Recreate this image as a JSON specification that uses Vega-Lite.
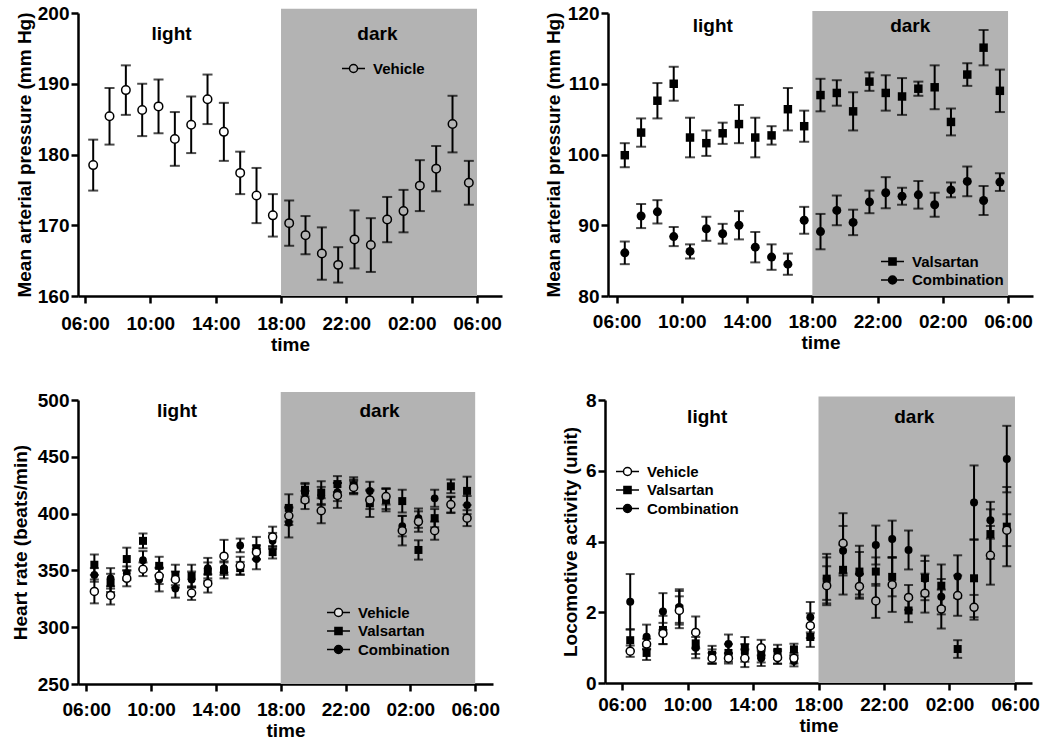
{
 "$schema": "https://vega.github.io/schema/vega-lite/v6.json",
 "background": "white",
 "padding": {"left": 0, "top": 4, "right": 0, "bottom": 0},
 "datasets": {
  "p1": [
   {"hour":6.5,"series":"Vehicle","mean":178.5,"sem":3.6},{"hour":7.5,"series":"Vehicle","mean":185.4,"sem":4.0},{"hour":8.5,"series":"Vehicle","mean":189.1,"sem":3.5},{"hour":9.5,"series":"Vehicle","mean":186.3,"sem":3.7},{"hour":10.5,"series":"Vehicle","mean":186.8,"sem":3.8},{"hour":11.5,"series":"Vehicle","mean":182.2,"sem":3.8},{"hour":12.5,"series":"Vehicle","mean":184.2,"sem":4.0},{"hour":13.5,"series":"Vehicle","mean":187.8,"sem":3.5},{"hour":14.5,"series":"Vehicle","mean":183.2,"sem":4.1},{"hour":15.5,"series":"Vehicle","mean":177.4,"sem":3.0},{"hour":16.5,"series":"Vehicle","mean":174.2,"sem":3.9},{"hour":17.5,"series":"Vehicle","mean":171.4,"sem":3.0},
   {"hour":18.5,"series":"Vehicle","mean":170.3,"sem":3.2},{"hour":19.5,"series":"Vehicle","mean":168.6,"sem":2.7},{"hour":20.5,"series":"Vehicle","mean":166.0,"sem":3.7},{"hour":21.5,"series":"Vehicle","mean":164.4,"sem":2.5},{"hour":22.5,"series":"Vehicle","mean":168.0,"sem":4.1},{"hour":23.5,"series":"Vehicle","mean":167.2,"sem":3.8},{"hour":24.5,"series":"Vehicle","mean":170.8,"sem":3.2},{"hour":25.5,"series":"Vehicle","mean":172.0,"sem":3.0},{"hour":26.5,"series":"Vehicle","mean":175.6,"sem":3.6},{"hour":27.5,"series":"Vehicle","mean":178.0,"sem":3.2},{"hour":28.5,"series":"Vehicle","mean":184.3,"sem":4.0},{"hour":29.5,"series":"Vehicle","mean":176.0,"sem":3.1}
  ],
  "p2": [
   {"hour":6.5,"series":"Valsartan","mean":99.9,"sem":1.7},{"hour":7.5,"series":"Valsartan","mean":103.1,"sem":2.0},{"hour":8.5,"series":"Valsartan","mean":107.6,"sem":2.5},{"hour":9.5,"series":"Valsartan","mean":110.0,"sem":2.4},{"hour":10.5,"series":"Valsartan","mean":102.4,"sem":2.8},{"hour":11.5,"series":"Valsartan","mean":101.6,"sem":1.8},{"hour":12.5,"series":"Valsartan","mean":103.0,"sem":1.5},{"hour":13.5,"series":"Valsartan","mean":104.3,"sem":2.7},{"hour":14.5,"series":"Valsartan","mean":102.4,"sem":2.8},{"hour":15.5,"series":"Valsartan","mean":102.7,"sem":1.3},{"hour":16.5,"series":"Valsartan","mean":106.4,"sem":3.0},{"hour":17.5,"series":"Valsartan","mean":104.0,"sem":2.2},
   {"hour":18.5,"series":"Valsartan","mean":108.4,"sem":2.3},{"hour":19.5,"series":"Valsartan","mean":108.7,"sem":1.8},{"hour":20.5,"series":"Valsartan","mean":106.1,"sem":2.7},{"hour":21.5,"series":"Valsartan","mean":110.3,"sem":1.3},{"hour":22.5,"series":"Valsartan","mean":108.7,"sem":2.5},{"hour":23.5,"series":"Valsartan","mean":108.2,"sem":2.6},{"hour":24.5,"series":"Valsartan","mean":109.3,"sem":1.0},{"hour":25.5,"series":"Valsartan","mean":109.5,"sem":3.1},{"hour":26.5,"series":"Valsartan","mean":104.6,"sem":1.9},{"hour":27.5,"series":"Valsartan","mean":111.3,"sem":1.6},{"hour":28.5,"series":"Valsartan","mean":115.1,"sem":2.5},{"hour":29.5,"series":"Valsartan","mean":109.0,"sem":3.0},
   {"hour":6.5,"series":"Combination","mean":86.1,"sem":1.6},{"hour":7.5,"series":"Combination","mean":91.3,"sem":1.7},{"hour":8.5,"series":"Combination","mean":91.9,"sem":1.65},{"hour":9.5,"series":"Combination","mean":88.4,"sem":1.35},{"hour":10.5,"series":"Combination","mean":86.3,"sem":1.0},{"hour":11.5,"series":"Combination","mean":89.5,"sem":1.7},{"hour":12.5,"series":"Combination","mean":88.8,"sem":1.4},{"hour":13.5,"series":"Combination","mean":90.0,"sem":2.0},{"hour":14.5,"series":"Combination","mean":86.9,"sem":2.15},{"hour":15.5,"series":"Combination","mean":85.5,"sem":1.8},{"hour":16.5,"series":"Combination","mean":84.5,"sem":1.5},{"hour":17.5,"series":"Combination","mean":90.7,"sem":1.9},
   {"hour":18.5,"series":"Combination","mean":89.1,"sem":2.5},{"hour":19.5,"series":"Combination","mean":92.1,"sem":2.1},{"hour":20.5,"series":"Combination","mean":90.4,"sem":1.8},{"hour":21.5,"series":"Combination","mean":93.3,"sem":1.6},{"hour":22.5,"series":"Combination","mean":94.6,"sem":2.2},{"hour":23.5,"series":"Combination","mean":94.1,"sem":1.2},{"hour":24.5,"series":"Combination","mean":94.3,"sem":1.95},{"hour":25.5,"series":"Combination","mean":92.9,"sem":1.7},{"hour":26.5,"series":"Combination","mean":95.0,"sem":1.05},{"hour":27.5,"series":"Combination","mean":96.2,"sem":2.1},{"hour":28.5,"series":"Combination","mean":93.5,"sem":2.05},{"hour":29.5,"series":"Combination","mean":96.1,"sem":1.25}
  ],
  "p3": [
   {"hour":6.5,"series":"Vehicle","mean":331.5,"sem":10.5},{"hour":7.5,"series":"Vehicle","mean":328,"sem":8},{"hour":8.5,"series":"Vehicle","mean":343,"sem":7},{"hour":9.5,"series":"Vehicle","mean":351,"sem":6},{"hour":10.5,"series":"Vehicle","mean":345,"sem":7},{"hour":11.5,"series":"Vehicle","mean":342,"sem":7},{"hour":12.5,"series":"Vehicle","mean":330,"sem":6},{"hour":13.5,"series":"Vehicle","mean":338.5,"sem":8},{"hour":14.5,"series":"Vehicle","mean":362.5,"sem":14.4},{"hour":15.5,"series":"Vehicle","mean":354,"sem":8},{"hour":16.5,"series":"Vehicle","mean":366,"sem":6},{"hour":17.5,"series":"Vehicle","mean":379.5,"sem":9},
   {"hour":18.5,"series":"Vehicle","mean":398,"sem":8},{"hour":19.5,"series":"Vehicle","mean":412,"sem":8},{"hour":20.5,"series":"Vehicle","mean":402.5,"sem":11},{"hour":21.5,"series":"Vehicle","mean":416,"sem":11},{"hour":22.5,"series":"Vehicle","mean":423,"sem":6},{"hour":23.5,"series":"Vehicle","mean":412,"sem":8},{"hour":24.5,"series":"Vehicle","mean":415,"sem":7},{"hour":25.5,"series":"Vehicle","mean":385,"sem":13},{"hour":26.5,"series":"Vehicle","mean":393,"sem":9},{"hour":27.5,"series":"Vehicle","mean":385,"sem":8},{"hour":28.5,"series":"Vehicle","mean":408,"sem":7},{"hour":29.5,"series":"Vehicle","mean":396,"sem":7},
   {"hour":6.5,"series":"Valsartan","mean":355,"sem":9},{"hour":7.5,"series":"Valsartan","mean":339,"sem":8},{"hour":8.5,"series":"Valsartan","mean":360,"sem":10},{"hour":9.5,"series":"Valsartan","mean":376,"sem":6.5},{"hour":10.5,"series":"Valsartan","mean":354,"sem":8},{"hour":11.5,"series":"Valsartan","mean":346,"sem":9},{"hour":12.5,"series":"Valsartan","mean":345,"sem":10},{"hour":13.5,"series":"Valsartan","mean":349,"sem":8},{"hour":14.5,"series":"Valsartan","mean":350,"sem":7},{"hour":15.5,"series":"Valsartan","mean":352,"sem":5.5},{"hour":16.5,"series":"Valsartan","mean":369.5,"sem":10},{"hour":17.5,"series":"Valsartan","mean":366,"sem":5.5},
   {"hour":18.5,"series":"Valsartan","mean":405,"sem":12},{"hour":19.5,"series":"Valsartan","mean":421,"sem":6},{"hour":20.5,"series":"Valsartan","mean":418.5,"sem":10},{"hour":21.5,"series":"Valsartan","mean":426,"sem":7},{"hour":22.5,"series":"Valsartan","mean":425,"sem":7},{"hour":23.5,"series":"Valsartan","mean":409,"sem":12},{"hour":24.5,"series":"Valsartan","mean":412,"sem":10},{"hour":25.5,"series":"Valsartan","mean":411,"sem":10},{"hour":26.5,"series":"Valsartan","mean":368,"sem":8.5},{"hour":27.5,"series":"Valsartan","mean":396,"sem":8},{"hour":28.5,"series":"Valsartan","mean":424,"sem":6},{"hour":29.5,"series":"Valsartan","mean":420,"sem":12.5},
   {"hour":6.5,"series":"Combination","mean":346,"sem":6},{"hour":7.5,"series":"Combination","mean":343,"sem":9},{"hour":8.5,"series":"Combination","mean":347.5,"sem":6},{"hour":9.5,"series":"Combination","mean":359,"sem":8},{"hour":10.5,"series":"Combination","mean":342,"sem":10.5},{"hour":11.5,"series":"Combination","mean":334,"sem":8},{"hour":12.5,"series":"Combination","mean":342,"sem":7},{"hour":13.5,"series":"Combination","mean":352,"sem":9},{"hour":14.5,"series":"Combination","mean":352,"sem":6},{"hour":15.5,"series":"Combination","mean":372,"sem":6},{"hour":16.5,"series":"Combination","mean":360,"sem":9},{"hour":17.5,"series":"Combination","mean":376,"sem":7},
   {"hour":18.5,"series":"Combination","mean":392,"sem":13},{"hour":19.5,"series":"Combination","mean":418,"sem":8},{"hour":20.5,"series":"Combination","mean":415.5,"sem":8},{"hour":21.5,"series":"Combination","mean":419,"sem":8},{"hour":22.5,"series":"Combination","mean":424,"sem":6},{"hour":23.5,"series":"Combination","mean":420,"sem":8},{"hour":24.5,"series":"Combination","mean":413,"sem":9},{"hour":25.5,"series":"Combination","mean":389,"sem":9},{"hour":26.5,"series":"Combination","mean":396,"sem":8.5},{"hour":27.5,"series":"Combination","mean":413.5,"sem":7.5},{"hour":28.5,"series":"Combination","mean":407.5,"sem":7},{"hour":29.5,"series":"Combination","mean":407.5,"sem":8}
  ],
  "p4": [
   {"hour":6.5,"series":"Vehicle","mean":0.9,"sem":0.16},{"hour":7.5,"series":"Vehicle","mean":1.1,"sem":0.15},{"hour":8.5,"series":"Vehicle","mean":1.4,"sem":0.3},{"hour":9.5,"series":"Vehicle","mean":2.05,"sem":0.4},{"hour":10.5,"series":"Vehicle","mean":1.43,"sem":0.45},{"hour":11.5,"series":"Vehicle","mean":0.7,"sem":0.15},{"hour":12.5,"series":"Vehicle","mean":0.7,"sem":0.15},{"hour":13.5,"series":"Vehicle","mean":0.7,"sem":0.25},{"hour":14.5,"series":"Vehicle","mean":1.0,"sem":0.22},{"hour":15.5,"series":"Vehicle","mean":0.72,"sem":0.18},{"hour":16.5,"series":"Vehicle","mean":0.7,"sem":0.15},{"hour":17.5,"series":"Vehicle","mean":1.62,"sem":0.35},
   {"hour":18.5,"series":"Vehicle","mean":2.75,"sem":0.55},{"hour":19.5,"series":"Vehicle","mean":3.95,"sem":0.85},{"hour":20.5,"series":"Vehicle","mean":2.73,"sem":0.35},{"hour":21.5,"series":"Vehicle","mean":2.32,"sem":0.48},{"hour":22.5,"series":"Vehicle","mean":2.78,"sem":0.77},{"hour":23.5,"series":"Vehicle","mean":2.42,"sem":0.35},{"hour":24.5,"series":"Vehicle","mean":2.54,"sem":0.55},{"hour":25.5,"series":"Vehicle","mean":2.09,"sem":0.55},{"hour":26.5,"series":"Vehicle","mean":2.47,"sem":0.57},{"hour":27.5,"series":"Vehicle","mean":2.14,"sem":0.35},{"hour":28.5,"series":"Vehicle","mean":3.61,"sem":0.83},{"hour":29.5,"series":"Vehicle","mean":4.32,"sem":0.45},
   {"hour":6.5,"series":"Valsartan","mean":1.21,"sem":0.3},{"hour":7.5,"series":"Valsartan","mean":0.85,"sem":0.2},{"hour":8.5,"series":"Valsartan","mean":1.5,"sem":0.4},{"hour":9.5,"series":"Valsartan","mean":2.1,"sem":0.55},{"hour":10.5,"series":"Valsartan","mean":1.12,"sem":0.3},{"hour":11.5,"series":"Valsartan","mean":0.8,"sem":0.25},{"hour":12.5,"series":"Valsartan","mean":0.85,"sem":0.25},{"hour":13.5,"series":"Valsartan","mean":1.0,"sem":0.3},{"hour":14.5,"series":"Valsartan","mean":0.8,"sem":0.22},{"hour":15.5,"series":"Valsartan","mean":0.88,"sem":0.2},{"hour":16.5,"series":"Valsartan","mean":0.95,"sem":0.16},{"hour":17.5,"series":"Valsartan","mean":1.3,"sem":0.28},
   {"hour":18.5,"series":"Valsartan","mean":2.95,"sem":0.7},{"hour":19.5,"series":"Valsartan","mean":3.2,"sem":0.7},{"hour":20.5,"series":"Valsartan","mean":3.15,"sem":0.73},{"hour":21.5,"series":"Valsartan","mean":3.15,"sem":0.4},{"hour":22.5,"series":"Valsartan","mean":3.0,"sem":0.55},{"hour":23.5,"series":"Valsartan","mean":2.05,"sem":0.33},{"hour":24.5,"series":"Valsartan","mean":2.97,"sem":0.63},{"hour":25.5,"series":"Valsartan","mean":2.75,"sem":0.6},{"hour":26.5,"series":"Valsartan","mean":0.96,"sem":0.25},{"hour":27.5,"series":"Valsartan","mean":2.96,"sem":1.1},{"hour":28.5,"series":"Valsartan","mean":4.21,"sem":0.7},{"hour":29.5,"series":"Valsartan","mean":4.42,"sem":1.12},
   {"hour":6.5,"series":"Combination","mean":2.3,"sem":0.78},{"hour":7.5,"series":"Combination","mean":1.31,"sem":0.34},{"hour":8.5,"series":"Combination","mean":2.02,"sem":0.52},{"hour":9.5,"series":"Combination","mean":2.15,"sem":0.45},{"hour":10.5,"series":"Combination","mean":1.0,"sem":0.3},{"hour":11.5,"series":"Combination","mean":0.75,"sem":0.2},{"hour":12.5,"series":"Combination","mean":1.1,"sem":0.27},{"hour":13.5,"series":"Combination","mean":0.85,"sem":0.25},{"hour":14.5,"series":"Combination","mean":0.7,"sem":0.22},{"hour":15.5,"series":"Combination","mean":0.75,"sem":0.2},{"hour":16.5,"series":"Combination","mean":0.62,"sem":0.15},{"hour":17.5,"series":"Combination","mean":1.86,"sem":0.43},
   {"hour":18.5,"series":"Combination","mean":2.95,"sem":0.6},{"hour":19.5,"series":"Combination","mean":3.74,"sem":0.7},{"hour":20.5,"series":"Combination","mean":3.1,"sem":0.6},{"hour":21.5,"series":"Combination","mean":3.9,"sem":0.55},{"hour":22.5,"series":"Combination","mean":4.07,"sem":0.52},{"hour":23.5,"series":"Combination","mean":3.76,"sem":0.55},{"hour":24.5,"series":"Combination","mean":2.95,"sem":0.5},{"hour":25.5,"series":"Combination","mean":2.44,"sem":0.5},{"hour":26.5,"series":"Combination","mean":3.01,"sem":0.6},{"hour":27.5,"series":"Combination","mean":5.1,"sem":1.05},{"hour":28.5,"series":"Combination","mean":4.6,"sem":0.52},{"hour":29.5,"series":"Combination","mean":6.33,"sem":0.94}
  ]
 },
 "columns": 1,
 "align": "none",
 "spacing": 37,
 "center": false,
 "resolve": {"scale": {"shape": "independent", "fill": "independent"}, "legend": {"shape": "independent", "fill": "independent"}},
 "concat": [
  {
   "spacing": 42,
   "center": false,
   "resolve": {"scale": {"shape": "independent", "fill": "independent"}, "legend": {"shape": "independent", "fill": "independent"}},
   "hconcat": [
    {
     "width": 424, "height": 283,
     "data": {"name": "p1"},
     "layer": [
      {"data": {"values": [{"hour": 18, "hour2": 30, "mean": 160, "mean2": 200.6}]},
       "mark": {"type": "rect", "color": "#b3b3b3"},
       "encoding": {
        "x": {"field": "hour", "type": "quantitative", "title": "time", "scale": {"domain": [5.57, 31.53], "nice": false, "zero": false},
              "axis": {"values": [6,10,14,18,22,26,30], "labelExpr": "(datum.value % 24 < 10 ? '0' : '') + (datum.value % 24) + ':00'", "labelFlush": false, "labelPadding": 11, "titlePadding": 2}},
        "x2": {"field": "hour2"},
        "y": {"field": "mean", "type": "quantitative", "title": ["", "Mean arterial pressure (mm Hg)"], "scale": {"domain": [160, 200], "nice": false, "zero": false},
              "axis": {"values": [160,170,180,190,200], "labelFlush": false, "titlePadding": 3, "titleLineHeight": 15}},
        "y2": {"field": "mean2"}
       }},
      {"data": {"values": [{"hour": 11.3, "mean": 197, "label": "light"}, {"hour": 23.9, "mean": 197, "label": "dark"}]},
       "mark": {"type": "text", "fontSize": 19, "fontWeight": "bold", "color": "black", "font": "Liberation Sans"},
       "encoding": {"x": {"field": "hour", "type": "quantitative", "title": "time"}, "y": {"field": "mean", "type": "quantitative", "title": ["", "Mean arterial pressure (mm Hg)"]}, "text": {"field": "label"}}},
      {"mark": {"type": "errorbar", "color": "black", "thickness": 2, "ticks": {"size": 10, "thickness": 2}},
       "encoding": {"x": {"field": "hour", "type": "quantitative", "title": "time"}, "y": {"field": "mean", "type": "quantitative", "title": ["", "Mean arterial pressure (mm Hg)"]}, "yError": {"field": "sem"}}},
      {"mark": {"type": "point", "shape": "circle", "size": 72, "stroke": "black", "strokeWidth": 1.5, "filled": true, "opacity": 1},
       "encoding": {"x": {"field": "hour", "type": "quantitative", "title": "time"}, "y": {"field": "mean", "type": "quantitative", "title": ["", "Mean arterial pressure (mm Hg)"]},
        "fill": {"condition": {"test": "datum.hour > 18", "value": "#b3b3b3"}, "value": "white"}}},
      {"mark": {"type": "point", "opacity": 0, "filled": true, "stroke": "black", "strokeWidth": 1.5},
       "encoding": {"x": {"field": "hour", "type": "quantitative", "title": "time"}, "y": {"field": "mean", "type": "quantitative", "title": ["", "Mean arterial pressure (mm Hg)"]},
        "shape": {"field": "series", "type": "nominal", "scale": {"domain": ["Vehicle"], "range": ["M-2,0L-0.7,0M0.7,0L2,0M-0.7,0A0.7,0.7,0,1,1,0.7,0A0.7,0.7,0,1,1,-0.7,0Z"]},
                  "legend": {"title": null, "orient": "none", "legendX": 268, "legendY": 48, "symbolSize": 132, "symbolStrokeColor": "black", "symbolStrokeWidth": 1.5, "symbolOpacity": 1, "labelFontSize": 15, "labelFontWeight": "bold", "labelColor": "black", "labelOffset": 12, "rowPadding": 2.5, "padding": 0, "encode": {"symbols": {"update": {"stroke": {"value": "black"}, "strokeWidth": {"value": 1.5}}}}}},
        "fill": {"field": "series", "type": "nominal", "scale": {"domain": ["Vehicle"], "range": ["#b3b3b3"]},
                  "legend": {"title": null, "orient": "none", "legendX": 268, "legendY": 48, "symbolSize": 132, "symbolStrokeColor": "black", "symbolStrokeWidth": 1.5, "symbolOpacity": 1, "labelFontSize": 15, "labelFontWeight": "bold", "labelColor": "black", "labelOffset": 12, "rowPadding": 2.5, "padding": 0, "encode": {"symbols": {"update": {"stroke": {"value": "black"}, "strokeWidth": {"value": 1.5}}}}}}}}
     ]
    },
    {
     "width": 425, "height": 283,
     "data": {"name": "p2"},
     "layer": [
      {"data": {"values": [{"hour": 18, "hour2": 30, "mean": 80, "mean2": 120.3}]},
       "mark": {"type": "rect", "color": "#b3b3b3"},
       "encoding": {
        "x": {"field": "hour", "type": "quantitative", "title": "time", "scale": {"domain": [5.47, 31.53], "nice": false, "zero": false},
              "axis": {"values": [6,10,14,18,22,26,30], "labelExpr": "(datum.value % 24 < 10 ? '0' : '') + (datum.value % 24) + ':00'", "labelFlush": false, "labelPadding": 9, "titlePadding": 2}},
        "x2": {"field": "hour2"},
        "y": {"field": "mean", "type": "quantitative", "title": "Mean arterial pressure (mm Hg)", "scale": {"domain": [80, 120], "nice": false, "zero": false},
              "axis": {"values": [80,90,100,110,120], "labelFlush": false, "titlePadding": 4}},
        "y2": {"field": "mean2"}
       }},
      {"data": {"values": [{"hour": 11.9, "mean": 118.1, "label": "light"}, {"hour": 24.0, "mean": 118.1, "label": "dark"}]},
       "mark": {"type": "text", "fontSize": 19, "fontWeight": "bold", "color": "black", "font": "Liberation Sans"},
       "encoding": {"x": {"field": "hour", "type": "quantitative", "title": "time"}, "y": {"field": "mean", "type": "quantitative", "title": "Mean arterial pressure (mm Hg)"}, "text": {"field": "label"}}},
      {"mark": {"type": "errorbar", "color": "black", "thickness": 2, "ticks": {"size": 10, "thickness": 2}},
       "encoding": {"x": {"field": "hour", "type": "quantitative", "title": "time"}, "y": {"field": "mean", "type": "quantitative", "title": "Mean arterial pressure (mm Hg)"}, "yError": {"field": "sem"}}},
      {"transform": [{"filter": "datum.series === 'Valsartan'"}],
       "mark": {"type": "point", "shape": "square", "size": 72, "color": "black", "filled": true, "opacity": 1},
       "encoding": {"x": {"field": "hour", "type": "quantitative", "title": "time"}, "y": {"field": "mean", "type": "quantitative", "title": "Mean arterial pressure (mm Hg)"}}},
      {"transform": [{"filter": "datum.series === 'Combination'"}],
       "mark": {"type": "point", "shape": "circle", "size": 81, "color": "black", "filled": true, "opacity": 1},
       "encoding": {"x": {"field": "hour", "type": "quantitative", "title": "time"}, "y": {"field": "mean", "type": "quantitative", "title": "Mean arterial pressure (mm Hg)"}}},
      {"mark": {"type": "point", "opacity": 0, "filled": true, "stroke": "black", "strokeWidth": 1.5},
       "encoding": {"x": {"field": "hour", "type": "quantitative", "title": "time"}, "y": {"field": "mean", "type": "quantitative", "title": "Mean arterial pressure (mm Hg)"},
        "shape": {"field": "series", "type": "nominal", "scale": {"domain": ["Valsartan", "Combination"], "range": ["M-2,0L-0.62,0M0.62,0L2,0M-0.62,-0.62L0.62,-0.62L0.62,0.62L-0.62,0.62Z", "M-2,0L-0.7,0M0.7,0L2,0M-0.7,0A0.7,0.7,0,1,1,0.7,0A0.7,0.7,0,1,1,-0.7,0Z"]},
                  "legend": {"title": null, "orient": "none", "legendX": 277, "legendY": 241, "symbolSize": 132, "symbolStrokeColor": "black", "symbolStrokeWidth": 1.5, "symbolOpacity": 1, "labelFontSize": 15, "labelFontWeight": "bold", "labelColor": "black", "labelOffset": 12, "rowPadding": 2.5, "padding": 0, "encode": {"symbols": {"update": {"stroke": {"value": "black"}, "strokeWidth": {"value": 1.5}}}}}},
        "fill": {"field": "series", "type": "nominal", "scale": {"domain": ["Valsartan", "Combination"], "range": ["black", "black"]},
                  "legend": {"title": null, "orient": "none", "legendX": 277, "legendY": 241, "symbolSize": 132, "symbolStrokeColor": "black", "symbolStrokeWidth": 1.5, "symbolOpacity": 1, "labelFontSize": 15, "labelFontWeight": "bold", "labelColor": "black", "labelOffset": 12, "rowPadding": 2.5, "padding": 0, "encode": {"symbols": {"update": {"stroke": {"value": "black"}, "strokeWidth": {"value": 1.5}}}}}}}}
     ]
    }
   ]
  },
  {
   "spacing": 61,
   "center": false,
   "resolve": {"scale": {"shape": "independent", "fill": "independent"}, "legend": {"shape": "independent", "fill": "independent"}},
   "hconcat": [
    {
     "width": 415, "height": 284,
     "data": {"name": "p3"},
     "layer": [
      {"data": {"values": [{"hour": 18, "hour2": 30, "mean": 250, "mean2": 507}]},
       "mark": {"type": "rect", "color": "#b3b3b3"},
       "encoding": {
        "x": {"field": "hour", "type": "quantitative", "title": "time", "scale": {"domain": [5.49, 31.1], "nice": false, "zero": false},
              "axis": {"values": [6,10,14,18,22,26,30], "labelExpr": "(datum.value % 24 < 10 ? '0' : '') + (datum.value % 24) + ':00'", "labelFlush": false, "labelPadding": 9, "titlePadding": 2}},
        "x2": {"field": "hour2"},
        "y": {"field": "mean", "type": "quantitative", "title": "Heart rate (beats/min)", "scale": {"domain": [250, 500], "nice": false, "zero": false},
              "axis": {"values": [250,300,350,400,450,500], "labelFlush": false, "titlePadding": 7}},
        "y2": {"field": "mean2"}
       }},
      {"data": {"values": [{"hour": 11.6, "mean": 490.3, "label": "light"}, {"hour": 24.1, "mean": 490.3, "label": "dark"}]},
       "mark": {"type": "text", "fontSize": 19, "fontWeight": "bold", "color": "black", "font": "Liberation Sans"},
       "encoding": {"x": {"field": "hour", "type": "quantitative", "title": "time"}, "y": {"field": "mean", "type": "quantitative", "title": "Heart rate (beats/min)"}, "text": {"field": "label"}}},
      {"mark": {"type": "errorbar", "color": "black", "thickness": 2, "ticks": {"size": 9, "thickness": 2}},
       "encoding": {"x": {"field": "hour", "type": "quantitative", "title": "time"}, "y": {"field": "mean", "type": "quantitative", "title": "Heart rate (beats/min)"}, "yError": {"field": "sem"}}},
      {"transform": [{"filter": "datum.series === 'Combination'"}],
       "mark": {"type": "point", "shape": "circle", "size": 60, "color": "black", "filled": true, "opacity": 1},
       "encoding": {"x": {"field": "hour", "type": "quantitative", "title": "time"}, "y": {"field": "mean", "type": "quantitative", "title": "Heart rate (beats/min)"}}},
      {"transform": [{"filter": "datum.series === 'Valsartan'"}],
       "mark": {"type": "point", "shape": "square", "size": 64, "color": "black", "filled": true, "opacity": 1},
       "encoding": {"x": {"field": "hour", "type": "quantitative", "title": "time"}, "y": {"field": "mean", "type": "quantitative", "title": "Heart rate (beats/min)"}}},
      {"transform": [{"filter": "datum.series === 'Vehicle'"}],
       "mark": {"type": "point", "shape": "circle", "size": 64, "stroke": "black", "strokeWidth": 1.5, "filled": true, "opacity": 1},
       "encoding": {"x": {"field": "hour", "type": "quantitative", "title": "time"}, "y": {"field": "mean", "type": "quantitative", "title": "Heart rate (beats/min)"},
        "fill": {"condition": {"test": "datum.hour > 18", "value": "#b3b3b3"}, "value": "white"}}},
      {"mark": {"type": "point", "opacity": 0, "filled": true, "stroke": "black", "strokeWidth": 1.5},
       "encoding": {"x": {"field": "hour", "type": "quantitative", "title": "time"}, "y": {"field": "mean", "type": "quantitative", "title": "Heart rate (beats/min)"},
        "shape": {"field": "series", "type": "nominal", "scale": {"domain": ["Vehicle", "Valsartan", "Combination"], "range": ["M-2,0L-0.7,0M0.7,0L2,0M-0.7,0A0.7,0.7,0,1,1,0.7,0A0.7,0.7,0,1,1,-0.7,0Z", "M-2,0L-0.62,0M0.62,0L2,0M-0.62,-0.62L0.62,-0.62L0.62,0.62L-0.62,0.62Z", "M-2,0L-0.7,0M0.7,0L2,0M-0.7,0A0.7,0.7,0,1,1,0.7,0A0.7,0.7,0,1,1,-0.7,0Z"]},
                  "legend": {"title": null, "orient": "none", "legendX": 253, "legendY": 205, "symbolSize": 132, "symbolStrokeColor": "black", "symbolStrokeWidth": 1.5, "symbolOpacity": 1, "labelFontSize": 15, "labelFontWeight": "bold", "labelColor": "black", "labelOffset": 12, "rowPadding": 2.5, "padding": 0, "encode": {"symbols": {"update": {"stroke": {"value": "black"}, "strokeWidth": {"value": 1.5}}}}}},
        "fill": {"field": "series", "type": "nominal", "scale": {"domain": ["Vehicle", "Valsartan", "Combination"], "range": ["#e6e6e6", "black", "black"]},
                  "legend": {"title": null, "orient": "none", "legendX": 253, "legendY": 205, "symbolSize": 132, "symbolStrokeColor": "black", "symbolStrokeWidth": 1.5, "symbolOpacity": 1, "labelFontSize": 15, "labelFontWeight": "bold", "labelColor": "black", "labelOffset": 12, "rowPadding": 2.5, "padding": 0, "encode": {"symbols": {"update": {"stroke": {"value": "black"}, "strokeWidth": {"value": 1.5}}}}}}}}
     ]
    },
    {
     "width": 427, "height": 283,
     "data": {"name": "p4"},
     "layer": [
      {"data": {"values": [{"hour": 18, "hour2": 30, "mean": 0, "mean2": 8.1}]},
       "mark": {"type": "rect", "color": "#b3b3b3"},
       "encoding": {
        "x": {"field": "hour", "type": "quantitative", "title": "time", "scale": {"domain": [4.96, 31.04], "nice": false, "zero": false},
              "axis": {"values": [6,10,14,18,22,26,30], "labelExpr": "(datum.value % 24 < 10 ? '0' : '') + (datum.value % 24) + ':00'", "labelFlush": false, "labelPadding": 5, "titlePadding": 2}},
        "x2": {"field": "hour2"},
        "y": {"field": "mean", "type": "quantitative", "title": "Locomotive activity (unit)", "scale": {"domain": [0, 8], "nice": false, "zero": false},
              "axis": {"values": [0,2,4,6,8], "labelFlush": false, "titlePadding": 5}},
        "y2": {"field": "mean2"}
       }},
      {"data": {"values": [{"hour": 11.2, "mean": 7.53, "label": "light"}, {"hour": 23.85, "mean": 7.53, "label": "dark"}]},
       "mark": {"type": "text", "fontSize": 19, "fontWeight": "bold", "color": "black", "font": "Liberation Sans"},
       "encoding": {"x": {"field": "hour", "type": "quantitative", "title": "time"}, "y": {"field": "mean", "type": "quantitative", "title": "Locomotive activity (unit)"}, "text": {"field": "label"}}},
      {"mark": {"type": "errorbar", "color": "black", "thickness": 2, "ticks": {"size": 9, "thickness": 2}},
       "encoding": {"x": {"field": "hour", "type": "quantitative", "title": "time"}, "y": {"field": "mean", "type": "quantitative", "title": "Locomotive activity (unit)"}, "yError": {"field": "sem"}}},
      {"transform": [{"filter": "datum.series === 'Combination'"}],
       "mark": {"type": "point", "shape": "circle", "size": 64, "color": "black", "filled": true, "opacity": 1},
       "encoding": {"x": {"field": "hour", "type": "quantitative", "title": "time"}, "y": {"field": "mean", "type": "quantitative", "title": "Locomotive activity (unit)"}}},
      {"transform": [{"filter": "datum.series === 'Valsartan'"}],
       "mark": {"type": "point", "shape": "square", "size": 64, "color": "black", "filled": true, "opacity": 1},
       "encoding": {"x": {"field": "hour", "type": "quantitative", "title": "time"}, "y": {"field": "mean", "type": "quantitative", "title": "Locomotive activity (unit)"}}},
      {"transform": [{"filter": "datum.series === 'Vehicle'"}],
       "mark": {"type": "point", "shape": "circle", "size": 64, "stroke": "black", "strokeWidth": 1.5, "filled": true, "opacity": 1},
       "encoding": {"x": {"field": "hour", "type": "quantitative", "title": "time"}, "y": {"field": "mean", "type": "quantitative", "title": "Locomotive activity (unit)"},
        "fill": {"condition": {"test": "datum.hour > 18", "value": "#b3b3b3"}, "value": "white"}}},
      {"mark": {"type": "point", "opacity": 0, "filled": true, "stroke": "black", "strokeWidth": 1.5},
       "encoding": {"x": {"field": "hour", "type": "quantitative", "title": "time"}, "y": {"field": "mean", "type": "quantitative", "title": "Locomotive activity (unit)"},
        "shape": {"field": "series", "type": "nominal", "scale": {"domain": ["Vehicle", "Valsartan", "Combination"], "range": ["M-2,0L-0.7,0M0.7,0L2,0M-0.7,0A0.7,0.7,0,1,1,0.7,0A0.7,0.7,0,1,1,-0.7,0Z", "M-2,0L-0.62,0M0.62,0L2,0M-0.62,-0.62L0.62,-0.62L0.62,0.62L-0.62,0.62Z", "M-2,0L-0.7,0M0.7,0L2,0M-0.7,0A0.7,0.7,0,1,1,0.7,0A0.7,0.7,0,1,1,-0.7,0Z"]},
                  "legend": {"title": null, "orient": "none", "legendX": 15, "legendY": 64, "symbolSize": 132, "symbolStrokeColor": "black", "symbolStrokeWidth": 1.5, "symbolOpacity": 1, "labelFontSize": 15, "labelFontWeight": "bold", "labelColor": "black", "labelOffset": 12, "rowPadding": 2.5, "padding": 0, "encode": {"symbols": {"update": {"stroke": {"value": "black"}, "strokeWidth": {"value": 1.5}}}}}},
        "fill": {"field": "series", "type": "nominal", "scale": {"domain": ["Vehicle", "Valsartan", "Combination"], "range": ["white", "black", "black"]},
                  "legend": {"title": null, "orient": "none", "legendX": 15, "legendY": 64, "symbolSize": 132, "symbolStrokeColor": "black", "symbolStrokeWidth": 1.5, "symbolOpacity": 1, "labelFontSize": 15, "labelFontWeight": "bold", "labelColor": "black", "labelOffset": 12, "rowPadding": 2.5, "padding": 0, "encode": {"symbols": {"update": {"stroke": {"value": "black"}, "strokeWidth": {"value": 1.5}}}}}}}}
     ]
    }
   ]
  }
 ],
 "config": {
  "font": "Liberation Sans",
  "view": {"stroke": null},
  "axis": {"domainColor": "black", "domainWidth": 2.5, "tickColor": "black", "tickWidth": 2.5, "tickSize": 7, "grid": false,
           "labelFont": "Liberation Sans", "labelFontSize": 19, "labelFontWeight": "bold", "labelColor": "black", "labelPadding": 2,
           "titleFont": "Liberation Sans", "titleFontSize": 19, "titleFontWeight": "bold", "titleColor": "black"},
  "legend": {"labelFont": "Liberation Sans"}
 }
}
